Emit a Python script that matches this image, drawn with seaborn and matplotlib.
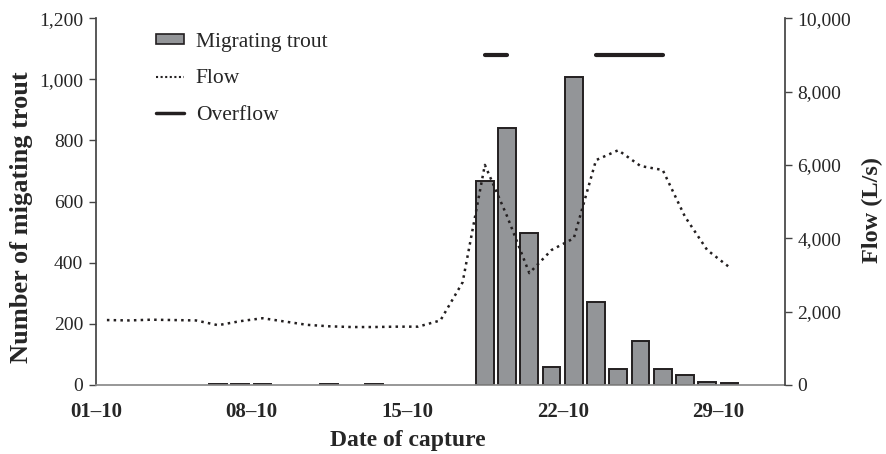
import matplotlib
matplotlib.use("Agg")
import matplotlib.pyplot as plt
import seaborn as sns
import pandas as pd
from matplotlib.patches import Patch
from matplotlib.lines import Line2D

# ---- data ----
trout_days = [6, 7, 8, 11, 13, 18, 19, 20, 21, 22, 23, 24, 25, 26, 27, 28, 29]
trout_counts = [2, 2, 2, 2, 2, 668, 840, 496, 60, 1008, 270, 53, 145, 53, 32, 11, 8]

flow_days = list(range(1, 30))
flow_values = [1770, 1760, 1780, 1770, 1760, 1630, 1740, 1820, 1730, 1640,
               1600, 1580, 1580, 1590, 1590, 1760, 2800, 6000, 4600, 3050,
               3680, 4000, 6130, 6400, 5970, 5860, 4590, 3680, 3210]

overflow_start = [18, 23]
overflow_end = [19, 26]
overflow_level = [9000, 9000]

tick_days = [1, 8, 15, 22, 29]
tick_labels = ["01\u201310", "08\u201310", "15\u201310", "22\u201310", "29\u201310"]

# ---- style ----
sns.set_theme(style="white")
plt.rcParams["font.family"] = ["Liberation Serif", "DejaVu Serif"]

bar_color = "#939598"
edge_color = "#231f20"
line_color = "#231f20"

fig, ax = plt.subplots(figsize=(8.87, 4.54), dpi=100)
fig.subplots_adjust(left=0.108, right=0.885, bottom=0.152, top=0.96)

trout_df = pd.DataFrame({"x": [d + 0.5 for d in trout_days], "n": trout_counts})
sns.barplot(data=trout_df, x="x", y="n", native_scale=True, width=0.8,
            color=bar_color, edgecolor=edge_color, linewidth=1.4,
            saturation=1, ax=ax, zorder=2)

ax2 = ax.twinx()
flow_df = pd.DataFrame({"x": [d + 0.5 for d in flow_days], "q": flow_values})
sns.lineplot(data=flow_df, x="x", y="q", ax=ax2, color=line_color,
             linestyle=(0, (1, 1.7)), linewidth=1.8)
for s, e, lvl in zip(overflow_start, overflow_end, overflow_level):
    ax2.plot([s + 0.5, e + 0.5], [lvl, lvl], color=line_color, linewidth=3,
             solid_capstyle="round")

ax.set_xlim(1, 32)
ax.set_ylim(0, 1200)
ax2.set_ylim(0, 10000)
ax.set_yticks(range(0, 1201, 200))
ax.set_yticklabels([f"{v:,}" for v in range(0, 1201, 200)])
ax2.set_yticks(range(0, 10001, 2000))
ax2.set_yticklabels([f"{v:,}" for v in range(0, 10001, 2000)])
ax.set_xticks(tick_days)
ax.set_xticklabels(tick_labels, fontweight="bold", fontsize=15)

for a in (ax, ax2):
    a.spines["top"].set_visible(False)
    a.tick_params(axis="y", labelsize=14, length=5, width=1, color="#444444",
                  direction="out", pad=4)
ax.spines["left"].set_color("#444444")
ax.spines["right"].set_visible(False)
ax.spines["bottom"].set_color("#8a8a8a")
ax2.spines["right"].set_color("#444444")
ax2.spines["left"].set_visible(False)
ax2.spines["bottom"].set_visible(False)
ax.tick_params(axis="x", length=4, width=1, color="#444444", direction="out",
               pad=8)
ax.tick_params(axis="y", left=True)
ax2.tick_params(axis="y", right=True)

ax.set_xlabel("Date of capture", fontsize=17, fontweight="bold")
ax.xaxis.set_label_coords(0.453, -0.123)
ax.set_ylabel("Number of migating trout", fontsize=19, fontweight="bold")
ax.yaxis.set_label_coords(-0.091, 0.458)
ax2.set_ylabel("Flow (L/s)", fontsize=17.5, fontweight="bold")
ax2.yaxis.set_label_coords(1.111, 0.477)

handles = [
    Patch(facecolor=bar_color, edgecolor=edge_color, linewidth=1.2),
    Line2D([0], [0], color=line_color, linestyle=(0, (1, 1.2)), linewidth=1.5),
    Line2D([0], [0], color=line_color, linewidth=2.5),
]
labels = ["Migrating trout", "Flow", "Overflow"]
ax.legend(handles, labels, loc="upper left", bbox_to_anchor=(0.059, 1.012),
          frameon=False, fontsize=15.5, handlelength=1.3, handleheight=0.35,
          labelspacing=0.8, handletextpad=0.55)

fig.savefig("out.png", dpi=100)
